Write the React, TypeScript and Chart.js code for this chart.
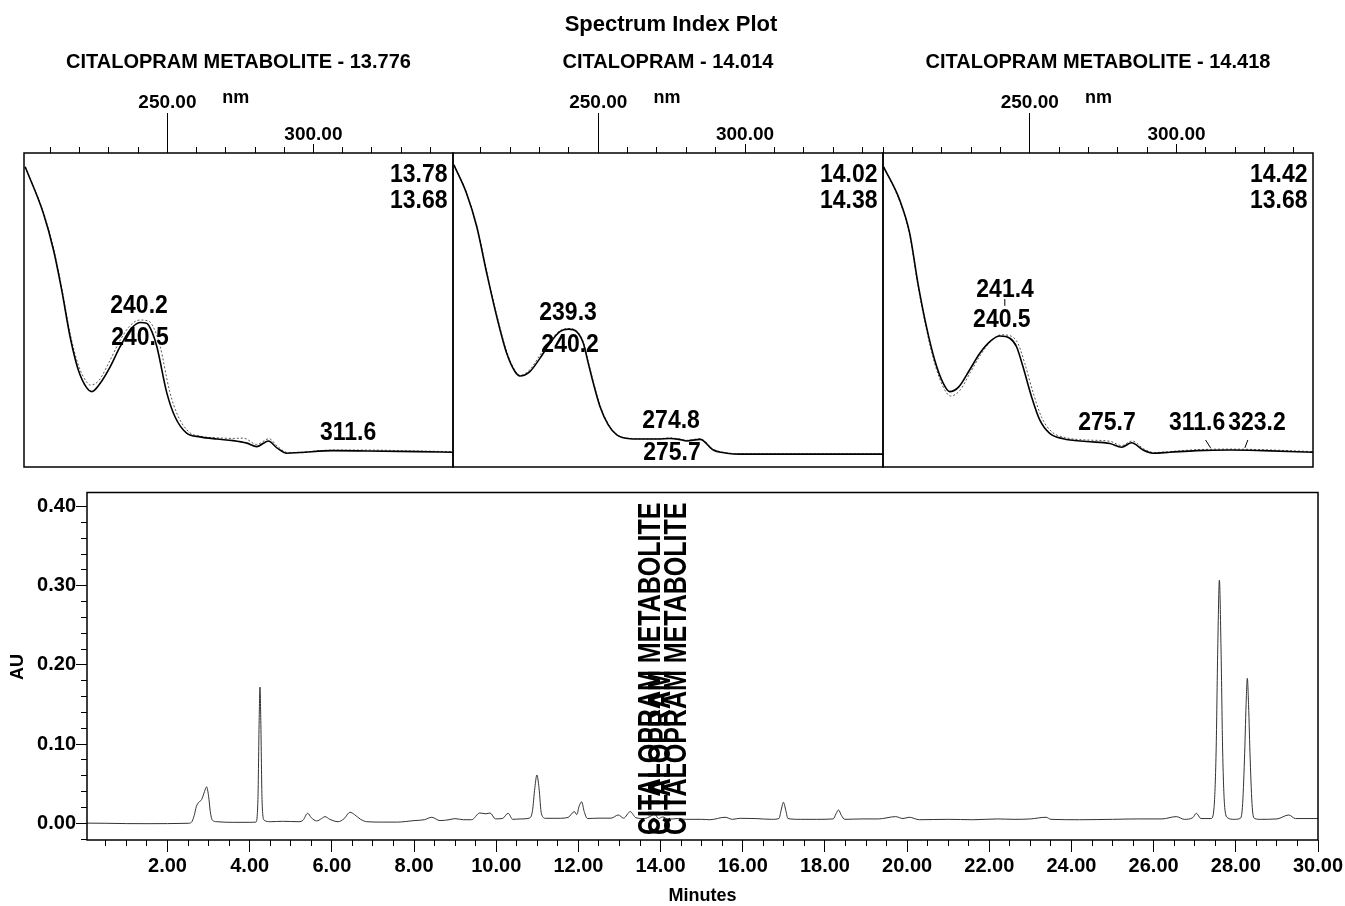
import React, { useEffect, useRef } from 'react';
import { Chart, registerables } from 'chart.js';

Chart.register(...registerables);

const FONT = '"Liberation Sans", Arial, Helvetica, sans-serif';
const W = 1345;
const H = 906;

// ---------- Chromatogram data ----------
const mainTitle = 'Spectrum Index Plot';
const peakNames = ['CITALOPRAM METABOLITE', 'CITALOPRAM', 'CITALOPRAM METABOLITE'];
const peakTimes = [13.776, 14.014, 14.418];

const chromTimes = [
  0.04, 0.5, 1.0, 1.5, 2.0, 2.5, 2.58, 2.65, 2.7, 2.76, 2.83, 2.9, 2.95, 3.0, 3.04, 3.09, 3.2, 3.6, 4.0,
  4.15, 4.2, 4.23, 4.25, 4.27, 4.3, 4.35, 4.5, 4.8, 5.2, 5.3, 5.41, 5.5, 5.63, 5.75, 5.83, 5.95, 6.15,
  6.3, 6.44, 6.55, 6.7, 6.85, 7.2, 7.6, 8.0, 8.25, 8.43, 8.63, 8.85, 9.0, 9.2, 9.4, 9.6, 9.75, 9.85,
  9.98, 10.15, 10.29, 10.4, 10.6, 10.8, 10.88, 10.94, 10.99, 11.04, 11.1, 11.2, 11.5, 11.75, 11.9,
  11.96, 12.02, 12.08, 12.14, 12.22, 12.5, 12.8, 12.97, 13.1, 13.26, 13.4, 13.6, 13.76, 13.85, 13.95,
  14.05, 14.2, 14.4, 14.6, 15.0, 15.2, 15.57, 15.75, 15.93, 16.3, 16.7, 16.88, 16.94, 16.99, 17.04,
  17.1, 17.4, 17.8, 18.2, 18.27, 18.33, 18.4, 18.48, 18.9, 19.3, 19.72, 19.9, 20.05, 20.3, 21.0, 21.6,
  22.2, 22.6, 23.0, 23.38, 23.5, 24.2, 25.0, 25.6, 26.2, 26.55, 26.75, 26.95, 27.04, 27.15, 27.4,
  27.47, 27.52, 27.56, 27.6, 27.64, 27.68, 27.73, 27.8, 27.95, 28.1, 28.16, 28.21, 28.25, 28.28, 28.31,
  28.35, 28.4, 28.46, 28.6, 29.0, 29.29, 29.45, 30.0,
];
const chromAU = [
  0.0002, 0.0, -0.0004, -0.0005, -0.0004, 0.0, 0.0012, 0.01, 0.021, 0.0265, 0.03, 0.04, 0.046, 0.034,
  0.015, 0.004, 0.002, 0.0012, 0.0012, 0.0015, 0.03, 0.13, 0.172, 0.13, 0.03, 0.004, 0.002, 0.0025,
  0.002, 0.004, 0.0126, 0.007, 0.003, 0.006, 0.0084, 0.005, 0.002, 0.006, 0.0139, 0.011, 0.005, 0.002,
  0.0015, 0.0015, 0.0034, 0.0045, 0.0076, 0.0034, 0.0045, 0.0059, 0.0045, 0.0045, 0.013, 0.012, 0.013,
  0.0056, 0.006, 0.0126, 0.005, 0.0055, 0.0065, 0.015, 0.045, 0.061, 0.045, 0.012, 0.0063, 0.0063,
  0.0075, 0.0147, 0.011, 0.022, 0.027, 0.015, 0.006, 0.0065, 0.0065, 0.0105, 0.0065, 0.0147, 0.007,
  0.006, 0.009, 0.012, 0.006, 0.008, 0.005, 0.006, 0.005, 0.005, 0.0045, 0.0076, 0.005, 0.0063, 0.006,
  0.005, 0.006, 0.018, 0.0265, 0.018, 0.006, 0.005, 0.005, 0.0055, 0.012, 0.0168, 0.01, 0.005, 0.0055,
  0.0055, 0.0084, 0.006, 0.0076, 0.0045, 0.005, 0.0045, 0.0055, 0.005, 0.0055, 0.0076, 0.005, 0.0045,
  0.005, 0.0055, 0.0055, 0.0084, 0.005, 0.007, 0.0126, 0.006, 0.006, 0.02, 0.09, 0.22, 0.307, 0.22,
  0.09, 0.02, 0.007, 0.005, 0.006, 0.02, 0.08, 0.15, 0.183, 0.15, 0.08, 0.02, 0.006, 0.005, 0.0055,
  0.0105, 0.006, 0.006,
];
const minuteTickLabels = ['2.00', '4.00', '6.00', '8.00', '10.00', '12.00', '14.00', '16.00', '18.00',
  '20.00', '22.00', '24.00', '26.00', '28.00', '30.00'];
const auTickLabels = ['0.00', '0.10', '0.20', '0.30', '0.40'];
const nmTickLabels = ['250.00', '300.00'];

// ---------- Spectra (relative absorbance) ----------
// Panel 1: 13.78 (solid) / 13.68 (dotted)
const s1aNm = [201.3, 207.5, 211.0, 213.8, 216.7, 219.5, 222.4, 224.1, 227.0, 230.4, 233.8, 237.2, 240.6,
  242.9, 244.7, 246.4, 249.8, 252.6, 256.6, 261.2, 266.9, 272.5, 277.2, 280.6, 284.6, 287.5, 290.9, 295.4,
  306.7, 318.3, 335.4, 347.7];
const s1aAbs = [0.956, 0.809, 0.691, 0.564, 0.414, 0.309, 0.252, 0.24, 0.267, 0.319, 0.383, 0.436, 0.46,
  0.458, 0.431, 0.383, 0.236, 0.16, 0.108, 0.096, 0.089, 0.084, 0.076, 0.065, 0.083, 0.061, 0.044, 0.046,
  0.052, 0.051, 0.049, 0.047];
const s1bNm = [201.3, 207.5, 211.0, 213.8, 216.7, 219.5, 222.4, 223.6, 226.5, 230.0, 233.5, 237.0, 240.5,
  243.5, 245.5, 247.5, 250.8, 253.6, 257.6, 262.0, 267.0, 272.5, 276.0, 280.6, 284.8, 287.8, 291.2, 295.4,
  306.7, 318.3, 335.4, 347.7];
const s1bAbs = [0.956, 0.812, 0.697, 0.572, 0.425, 0.325, 0.27, 0.261, 0.275, 0.333, 0.398, 0.448, 0.468,
  0.465, 0.44, 0.385, 0.24, 0.163, 0.11, 0.097, 0.093, 0.091, 0.092, 0.072, 0.09, 0.065, 0.046, 0.047,
  0.054, 0.054, 0.051, 0.049];

// Panel 2: 14.02 (solid) / 14.38 (dotted)
const s2aNm = [200.8, 205.1, 208.6, 212.0, 215.4, 218.8, 221.6, 223.3, 226.7, 230.1, 233.5, 236.9, 239.8,
  242.6, 244.9, 246.6, 248.3, 250.6, 253.4, 256.3, 260.8, 266.5, 270.5, 274.4, 277.5, 280.1, 284.7, 289.2,
  293.8, 298.3, 347.1];
const s2aAbs = [0.962, 0.872, 0.765, 0.617, 0.479, 0.362, 0.304, 0.29, 0.304, 0.346, 0.394, 0.431, 0.439,
  0.431, 0.394, 0.33, 0.267, 0.192, 0.134, 0.102, 0.09, 0.089, 0.089, 0.091, 0.088, 0.083, 0.088, 0.054,
  0.044, 0.041, 0.041];
const s2bNm = s2aNm;
const s2bAbs = [0.962, 0.874, 0.768, 0.622, 0.485, 0.368, 0.307, 0.292, 0.31, 0.356, 0.402, 0.434, 0.441,
  0.433, 0.398, 0.335, 0.272, 0.196, 0.137, 0.104, 0.091, 0.09, 0.09, 0.093, 0.089, 0.085, 0.09, 0.056,
  0.045, 0.042, 0.042];

// Panel 3: 14.42 (solid) / 13.68 (dotted)
const s3aNm = [200.2, 205.7, 209.1, 211.9, 214.8, 217.6, 220.5, 222.7, 225.9, 229.5, 233.0, 236.4, 239.8,
  243.2, 245.5, 247.7, 250.6, 253.4, 256.8, 261.4, 269.3, 277.3, 281.3, 284.7, 288.6, 292.0, 297.7, 306.8,
  318.2, 329.5, 346.6];
const s3aAbs = [0.956, 0.85, 0.744, 0.585, 0.447, 0.341, 0.267, 0.24, 0.256, 0.309, 0.362, 0.399, 0.417,
  0.41, 0.383, 0.319, 0.224, 0.15, 0.107, 0.09, 0.081, 0.075, 0.063, 0.077, 0.054, 0.044, 0.047, 0.052,
  0.054, 0.052, 0.047];
const s3bNm = [200.2, 205.7, 209.1, 211.9, 214.8, 217.6, 220.5, 223.0, 226.2, 229.8, 233.3, 236.7, 240.2,
  243.6, 246.0, 248.3, 251.3, 254.1, 257.5, 262.0, 269.3, 277.3, 281.3, 284.9, 288.8, 292.2, 297.7, 306.8,
  318.2, 329.5, 346.6];
const s3bAbs = [0.956, 0.846, 0.738, 0.578, 0.438, 0.33, 0.255, 0.226, 0.244, 0.302, 0.358, 0.4, 0.421,
  0.417, 0.393, 0.33, 0.232, 0.157, 0.112, 0.094, 0.086, 0.082, 0.068, 0.083, 0.058, 0.046, 0.049, 0.055,
  0.057, 0.055, 0.049];

const legendTimes = [['13.78', '13.68'], ['14.02', '14.38'], ['14.42', '13.68']];
const nmRanges = [[200.9, 347.8], [200.5, 347.0], [200.0, 346.5]];

// peak annotations: text, x position (nm), baseline (relative abs)
const peakLabels1 = [
  { text: '240.2', nm: 240.3, v: 0.49 },
  { text: '240.5', nm: 240.6, v: 0.389 },
  { text: '311.6', nm: 311.9, v: 0.086 },
];
const peakLabels2 = [
  { text: '239.3', nm: 239.7, v: 0.468 },
  { text: '240.2', nm: 240.4, v: 0.366 },
  { text: '274.8', nm: 274.8, v: 0.124 },
  { text: '275.7', nm: 275.1, v: 0.022 },
];
const peakLabels3 = [
  { text: '241.4', nm: 241.6, v: 0.541 },
  { text: '240.5', nm: 240.5, v: 0.446 },
  { text: '275.7', nm: 276.3, v: 0.118 },
  { text: '311.6', nm: 307.0, v: 0.118 },
  { text: '323.2', nm: 327.4, v: 0.118 },
];
const leaders3 = [
  { nm1: 241.5, v1: 0.535, nm2: 241.5, v2: 0.513 },
  { nm1: 309.9, v1: 0.086, nm2: 311.6, v2: 0.061 },
  { nm1: 324.3, v1: 0.086, nm2: 323.3, v2: 0.061 },
];

const fitTo = (size: number) => (s: any) => {
  if (s.isHorizontal()) s.height = size; else s.width = size;
  s.paddingLeft = 0; s.paddingRight = 0; s.paddingTop = 0; s.paddingBottom = 0;
};

const findLabel = (labels: string[], v: any) => {
  const f = labels.find((l) => Math.abs(parseFloat(l) - Number(v)) < 1e-6);
  return f === undefined ? '' : f;
};

// draws text stretched vertically (scanned print look)
function tallText(ctx: any, text: string, x: number, y: number, sy: number) {
  ctx.save();
  ctx.translate(x, y);
  ctx.scale(1, sy);
  ctx.fillText(text, 0, 0);
  ctx.restore();
}

const spectrumDecor = {
  id: 'panelDecor',
  afterDraw(chart: any, _args: any, o: any) {
    const { ctx, chartArea: a, scales } = chart;
    const x = scales.x;
    const y = scales.y;
    ctx.save();
    ctx.strokeStyle = '#000';
    ctx.lineWidth = 1.5;
    ctx.strokeRect(a.left, a.top, a.right - a.left, a.bottom - a.top);
    ctx.fillStyle = '#000';
    ctx.textBaseline = 'alphabetic';
    ctx.textAlign = 'center';
    if (o.mainTitle) {
      ctx.font = `bold 22px ${FONT}`;
      tallText(ctx, o.mainTitle, 671, 31, 1.0);
    }
    ctx.font = `bold 20px ${FONT}`;
    tallText(ctx, o.title, (a.left + a.right) / 2, 68, 1.0);
    ctx.font = `bold 18px ${FONT}`;
    ctx.fillText('nm', x.getPixelForValue(273.4), 103);
    ctx.font = `bold 23px ${FONT}`;
    ctx.textAlign = 'right';
    o.legend.forEach((t: string, i: number) => tallText(ctx, t, a.right - 5.5, 182 + i * 26, 1.12));
    ctx.textAlign = 'center';
    o.labels.forEach((l: any) => tallText(ctx, l.text, x.getPixelForValue(l.nm), y.getPixelForValue(l.v), 1.12));
    ctx.lineWidth = 1;
    (o.leaders || []).forEach((l: any) => {
      ctx.beginPath();
      ctx.moveTo(x.getPixelForValue(l.nm1), y.getPixelForValue(l.v1));
      ctx.lineTo(x.getPixelForValue(l.nm2), y.getPixelForValue(l.v2));
      ctx.stroke();
    });
    ctx.restore();
  },
};

const chromDecor = {
  id: 'chromDecor',
  afterDraw(chart: any, _args: any, o: any) {
    const { ctx, chartArea: a, scales } = chart;
    ctx.save();
    ctx.strokeStyle = '#000';
    ctx.lineWidth = 1.5;
    ctx.strokeRect(a.left, a.top, a.right - a.left, a.bottom - a.top);
    ctx.fillStyle = '#000';
    ctx.font = `bold 18px ${FONT}`;
    ctx.textAlign = 'center';
    ctx.textBaseline = 'alphabetic';
    ctx.fillText('Minutes', (a.left + a.right) / 2, 901);
    ctx.save();
    ctx.translate(18, 667);
    ctx.rotate(-Math.PI / 2);
    ctx.textBaseline = 'middle';
    ctx.fillText('AU', 0, 0);
    ctx.restore();
    ctx.font = `bold 25px ${FONT}`;
    ctx.textAlign = 'left';
    ctx.textBaseline = 'middle';
    o.names.forEach((n: string, i: number) => {
      ctx.save();
      ctx.translate(scales.x.getPixelForValue(o.times[i]), a.bottom - 5);
      ctx.rotate(-Math.PI / 2);
      ctx.scale(1, 1.25);
      ctx.fillText(n, 0, 0);
      ctx.restore();
    });
    ctx.restore();
  },
};

function tickGrid(len: number) {
  return { display: true, drawOnChartArea: false, drawTicks: true, tickLength: len, color: '#000', tickColor: '#000', tickWidth: 1 };
}
const noGrid = { display: false, drawOnChartArea: false, drawTicks: false };

function spectrumConfig(idx: number, box: number[], A: any, B: any, labels: any[], leaders: any[], withMain: boolean) {
  const [mn, mx] = nmRanges[idx];
  const axisBase = { type: 'linear', position: 'top', min: mn, max: mx, border: { display: false }, afterFit: fitTo(0) };
  const only = (v: number) => (s: any) => { s.ticks = s.ticks.filter((t: any) => Math.abs(t.value - v) < 1e-6); };
  return {
    type: 'line',
    data: {
      datasets: [
        {
          data: A.nm.map((v: number, i: number) => ({ x: v, y: A.abs[i] })),
          borderColor: '#000', borderWidth: 1.6, pointRadius: 0, cubicInterpolationMode: 'monotone', fill: false,
        },
        {
          data: B.nm.map((v: number, i: number) => ({ x: v, y: B.abs[i] })),
          borderColor: '#555', borderWidth: 1, borderDash: [2, 2], pointRadius: 0, cubicInterpolationMode: 'monotone', fill: false,
        },
      ],
    },
    options: {
      responsive: false, animation: false, devicePixelRatio: 1, events: [],
      layout: { padding: { left: box[0], right: W - box[1], top: 0, bottom: H - 467 } },
      plugins: {
        legend: { display: false }, tooltip: { enabled: false }, title: { display: false },
        panelDecor: {
          mainTitle: withMain ? mainTitle : '',
          title: `${peakNames[idx]} - ${peakTimes[idx].toFixed(3)}`,
          legend: legendTimes[idx], labels, leaders,
        },
      },
      scales: {
        x: { ...axisBase, ticks: { display: false, stepSize: 10, includeBounds: false, autoSkip: false }, grid: tickGrid(6) },
        x250: { ...axisBase, afterBuildTicks: only(250), ticks: { display: false, stepSize: 50, includeBounds: false }, grid: tickGrid(40) },
        x300: { ...axisBase, afterBuildTicks: only(300), ticks: { display: false, stepSize: 50, includeBounds: false }, grid: tickGrid(9) },
        xLab: {
          ...axisBase,
          afterFit: fitTo(153),
          ticks: {
            display: true, stepSize: 50, includeBounds: false, autoSkip: false, maxRotation: 0, minRotation: 0,
            color: '#000', font: { family: FONT, size: 19, weight: 'bold', lineHeight: 1.71 }, padding: 1.5,
            callback: (v: any) => {
              const t = findLabel(nmTickLabels, v);
              return t === nmTickLabels[0] ? [t, ''] : t;
            },
          },
          grid: noGrid,
        },
        y: { type: 'linear', display: false, min: 0, max: 1 },
      },
    },
    plugins: [spectrumDecor],
  };
}

function chromConfig() {
  const tickFont = { family: FONT, size: 20, weight: 'bold', lineHeight: 1 };
  const xBase = { type: 'linear', position: 'bottom', min: 0.04, max: 30, border: { display: false } };
  const yBase = { type: 'linear', position: 'left', min: -0.0211, max: 0.4177, border: { display: false } };
  return {
    type: 'line',
    data: {
      datasets: [
        {
          data: chromTimes.map((t, i) => ({ x: t, y: chromAU[i] })),
          borderColor: '#333', borderWidth: 1, pointRadius: 0, cubicInterpolationMode: 'monotone', fill: false,
          xAxisID: 'x', yAxisID: 'y',
        },
      ],
    },
    options: {
      responsive: false, animation: false, devicePixelRatio: 1, events: [],
      layout: { padding: { left: 0, right: W - 1318, top: 492.5, bottom: 0 } },
      plugins: {
        legend: { display: false }, tooltip: { enabled: false }, title: { display: false },
        chromDecor: { names: peakNames, times: peakTimes },
      },
      scales: {
        xMinor: { ...xBase, afterFit: fitTo(0), ticks: { display: false, stepSize: 0.5, includeBounds: false, autoSkip: false }, grid: tickGrid(6) },
        x: {
          ...xBase,
          afterFit: fitTo(H - 840),
          ticks: { display: true, stepSize: 2, includeBounds: false, autoSkip: false, maxRotation: 0, minRotation: 0, color: '#000', font: tickFont, padding: 4, callback: (v: any) => findLabel(minuteTickLabels, v) },
          grid: tickGrid(12),
        },
        yMinor: { ...yBase, afterFit: fitTo(0), ticks: { display: false, stepSize: 0.02, includeBounds: false, autoSkip: false }, grid: tickGrid(6) },
        y: {
          ...yBase,
          afterFit: fitTo(87),
          ticks: { display: true, stepSize: 0.1, includeBounds: false, autoSkip: false, color: '#000', font: tickFont, padding: 0, callback: (v: any) => findLabel(auTickLabels, v) },
          grid: tickGrid(11),
        },
      },
    },
    plugins: [chromDecor],
  };
}

export default function App() {
  const r1 = useRef<HTMLCanvasElement>(null);
  const r2 = useRef<HTMLCanvasElement>(null);
  const r3 = useRef<HTMLCanvasElement>(null);
  const r4 = useRef<HTMLCanvasElement>(null);

  useEffect(() => {
    const charts: any[] = [];
    charts.push(new Chart(r1.current as any, spectrumConfig(0, [24, 453],
      { nm: s1aNm, abs: s1aAbs }, { nm: s1bNm, abs: s1bAbs }, peakLabels1, [], false) as any));
    charts.push(new Chart(r2.current as any, spectrumConfig(1, [453, 883],
      { nm: s2aNm, abs: s2aAbs }, { nm: s2bNm, abs: s2bAbs }, peakLabels2, [], true) as any));
    charts.push(new Chart(r3.current as any, spectrumConfig(2, [883, 1313],
      { nm: s3aNm, abs: s3aAbs }, { nm: s3bNm, abs: s3bAbs }, peakLabels3, leaders3, false) as any));
    charts.push(new Chart(r4.current as any, chromConfig() as any));
    return () => charts.forEach((c) => c.destroy());
  }, []);

  const cs: React.CSSProperties = { position: 'absolute', left: 0, top: 0, width: W, height: H };
  return (
    <div style={{ position: 'fixed', left: 0, top: 0, width: W, height: H, background: '#fff', overflow: 'hidden' }}>
      <canvas ref={r1} width={W} height={H} style={cs} />
      <canvas ref={r2} width={W} height={H} style={cs} />
      <canvas ref={r3} width={W} height={H} style={cs} />
      <canvas ref={r4} width={W} height={H} style={cs} />
    </div>
  );
}
